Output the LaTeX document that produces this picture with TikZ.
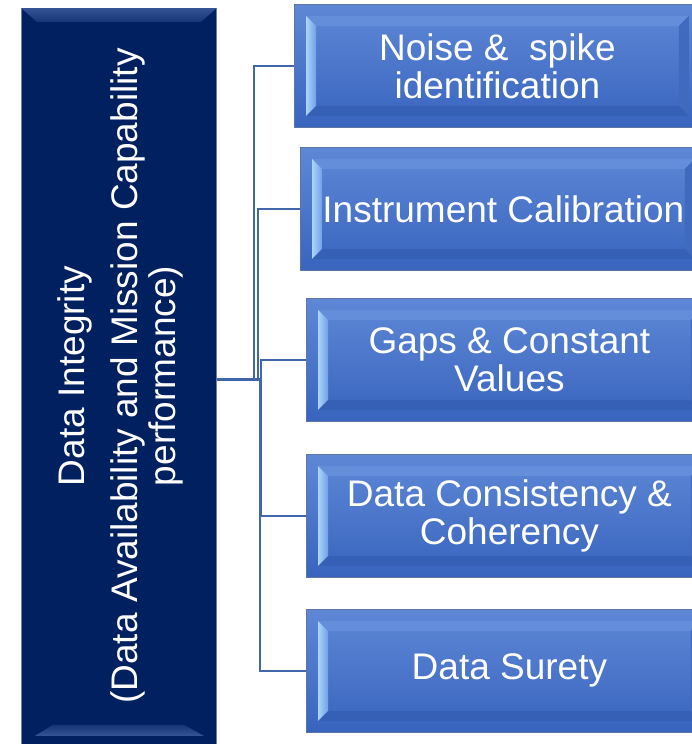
\documentclass[tikz,border=0pt]{standalone}
\usepackage{fontspec}
\setmainfont{Liberation Sans}
\definecolor{navy}{RGB}{0,32,96}
\definecolor{navyface}{RGB}{52,84,150}
\definecolor{navyfaceb}{RGB}{22,52,118}
\definecolor{navyedge}{RGB}{110,128,165}
\definecolor{boxtop}{RGB}{94,136,214}
\definecolor{boxbot}{RGB}{56,100,190}
\definecolor{boxedge}{RGB}{95,118,165}
\definecolor{hiA}{RGB}{172,212,250}
\definecolor{hiB}{RGB}{112,160,232}
\definecolor{topface}{RGB}{100,142,218}
\definecolor{botface}{RGB}{54,96,182}
\definecolor{rightface}{RGB}{64,106,190}
\definecolor{linec}{RGB}{66,102,172}
\newcommand\bfaces[1]{%
  \fill[topface] ([shift={(12,12)}]#1.north west) -- ([shift={(-12,12)}]#1.north east)
     -- ([shift={(-22,22)}]#1.north east) -- ([shift={(22,22)}]#1.north west) -- cycle;
  \fill[botface] ([shift={(12,-12)}]#1.south west) -- ([shift={(-12,-12)}]#1.south east)
     -- ([shift={(-22,-22)}]#1.south east) -- ([shift={(22,-22)}]#1.south west) -- cycle;
  \fill[rightface] ([shift={(-12,12)}]#1.north east) -- ([shift={(-22,22)}]#1.north east)
     -- ([shift={(-22,-22)}]#1.south east) -- ([shift={(-12,-12)}]#1.south east) -- cycle;
  \shade[left color=hiA, right color=hiB] ([shift={(12,12)}]#1.north west) -- ([shift={(22,22)}]#1.north west)
     -- ([shift={(22,-22)}]#1.south west) -- ([shift={(12,-12)}]#1.south west) -- cycle;
}
\begin{document}
\begin{tikzpicture}[x=1pt,y=-1pt,
  rbox/.style={rectangle, anchor=north west, minimum width=406pt, minimum height=123pt,
     top color=boxtop, bottom color=boxbot, draw=boxedge, line width=0.8pt,
     text=white, align=center, font=\fontsize{37}{38}\selectfont, inner sep=0pt},
  ltext/.style={rotate=90, anchor=base, text=white, font=\fontsize{37}{38}\selectfont, inner sep=0pt},
  conn/.style={draw=linec, line width=2.8pt}]
\useasboundingbox (0,0) rectangle (692,744);
\clip (0,0) rectangle (692,744);
\fill[white] (0,0) rectangle (692,744);
% main box
\node[rectangle, anchor=north west, minimum width=195pt, minimum height=738pt,
      fill=navy, draw=navyedge, line width=0.8pt, inner sep=0pt] (main) at (21,8) {};
\shade[top color=navyface, bottom color=navyfaceb] (main.north west) -- (main.north east)
   -- ([shift={(-16,14)}]main.north east) -- ([shift={(16,14)}]main.north west) -- cycle;
\shade[top color=navyfaceb, bottom color=navyface] ([shift={(32,-22)}]main.south west) -- ([shift={(-33,-22)}]main.south east)
   -- ([shift={(-13,-11)}]main.south east) -- ([shift={(14,-11)}]main.south west) -- cycle;
\node[ltext] (t1) at (84,376) {Data Integrity};
\node[ltext] (t2) at (137,376) {(Data Availability and Mission Capability};
\node[ltext] (t3) at (175,376) {performance)};
% connectors
\coordinate (hub) at ([yshift=-2pt]main.east);
\node[rbox] (b1) at (294,4) {Noise \&\ \ spike\\identification};
\node[rbox] (b2) at (300,147) {Instrument Calibration};
\node[rbox] (b3) at (306,298) {Gaps \& Constant\\Values};
\node[rbox] (b4) at (306,454) {Data Consistency \&\\Coherency};
\node[rbox] (b5) at (306,609) {Data Surety};
\draw[conn] (hub) -| ([xshift=-40pt]b1.west) -- (b1.west);
\draw[conn] (hub) -| ([xshift=-42pt]b2.west) -- (b2.west);
\draw[conn] (hub) -| ([xshift=-45pt]b3.west) -- (b3.west);
\draw[conn] (hub) -| ([xshift=-45pt]b4.west) -- (b4.west);
\draw[conn] (hub) -| ([xshift=-46pt]b5.west) -- (b5.west);
\bfaces{b1}\bfaces{b2}\bfaces{b3}\bfaces{b4}\bfaces{b5}
\end{tikzpicture}
\end{document}
